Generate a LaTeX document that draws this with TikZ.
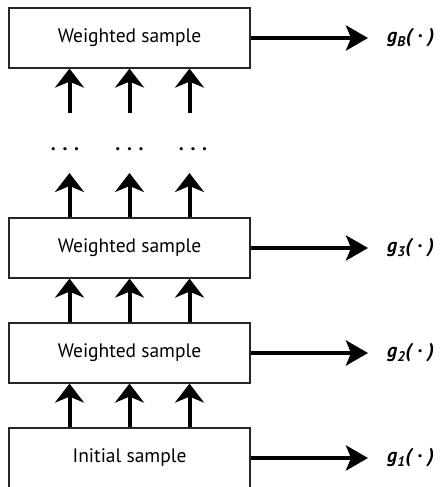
\documentclass[tikz,border=0pt]{standalone}
\usepackage{fontspec}
\setmainfont{PT Sans}
\usetikzlibrary{arrows.meta}

\begin{document}
\begin{tikzpicture}[x=1pt,y=-1pt,
    samplebox/.style={draw=black!85,line width=1.2pt,minimum width=241pt,minimum height=60pt,inner sep=0pt,font=\fontsize{19.5}{22}\selectfont},
    flow/.style={line width=4pt,-{Stealth[length=19pt,width=29pt,inset=6pt]}},
    outflow/.style={line width=4pt,-{Stealth[length=22pt,width=25pt,inset=5pt]}},
    gout/.style={anchor=west,inner sep=0pt,font=\fontsize{20}{22}\selectfont\bfseries\itshape}]
    \useasboundingbox (0,0) rectangle (442,487);

    % the samples
    \node[samplebox] (wB) at (129.5,38) {Weighted sample};
    \node[samplebox] (w3) at (129.5,248) {Weighted sample};
    \node[samplebox] (w2) at (129.5,353) {Weighted sample};
    \node[samplebox] (init) at (129.5,458) {Initial sample};

    % the estimates
    \node[gout] (gB) at (387,38) {g\textsubscript{B}(\;·\;)};
    \node[gout] (g3) at (387,248) {g\textsubscript{3}(\;·\;)};
    \node[gout] (g2) at (387,353) {g\textsubscript{2}(\;·\;)};
    \node[gout] (g1) at (387,458) {g\textsubscript{1}(\;·\;)};

    \foreach \s/\g in {wB/gB,w3/g3,w2/g2,init/g1}
        \draw[outflow,shorten >=19pt] (\s.east) -- (\s.east -| \g.west);

    % steps between the samples
    \foreach \dx in {-60,0,60}{
        \draw[flow] ([xshift=\dx pt]init.north) -- ([xshift=\dx pt]w2.south);
        \draw[flow] ([xshift=\dx pt]w2.north) -- ([xshift=\dx pt]w3.south);
    }

    % the gap
    \foreach \i/\dx/\ddx in {1/-60/-64.5,2/0/0,3/60/63.5}{
        \coordinate (up\i) at ([xshift=\dx pt]w3.north |- 0,173);
        \coordinate (lo\i) at ([xshift=\dx pt]wB.south |- 0,113);
        \draw[flow] ([xshift=\dx pt]w3.north) -- (up\i);
        \draw[flow] (lo\i) -- ([xshift=\dx pt]wB.south);
        \node[inner sep=0pt] (dots\i) at ([xshift=\ddx pt]wB.south |- 0,149) {\fontsize{20}{22}\selectfont\bfseries . . .};
    }
\end{tikzpicture}
\end{document}
